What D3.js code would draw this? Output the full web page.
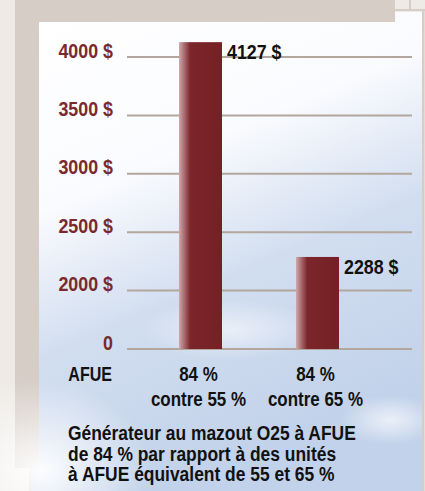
<!DOCTYPE html>
<html>
<head>
    <title></title>
    <meta charset="utf-8" />
    <style>
        body { margin: 0; }
        svg { display: block; }
        text { font-family: "Liberation Sans", Arial, sans-serif; font-weight: bold; }
    </style>
    <script src="https://d3js.org/d3.v7.min.js"></script>
</head>

<body>

<svg id="svg"></svg>

<script>

// data
let categories = ["84 %|contre 55 %", "84 %|contre 65 %"];
let values = [4127, 2288];
let yTicks = [1500, 2000, 2500, 3000, 3500, 4000];
let yTickLabels = ["0", "2000 $", "2500 $", "3000 $", "3500 $", "4000 $"];
let xAxisTitle = "AFUE";
let caption = [
    "Générateur au mazout O25 à AFUE",
    "de 84 % par rapport à des unités",
    "à AFUE équivalent de 55 et 65 %"
];

let realW = 425;
let realH = 491;
let squeeze = 0.85; // narrow the font to look condensed

let svg = d3.select("#svg")
    .attr("width", realW)
    .attr("height", realH);

let defs = svg.append("defs");

let sky = defs.append("linearGradient")
    .attr("id", "sky")
    .attr("x1", 0).attr("y1", 0).attr("x2", 0.35).attr("y2", 1);
sky.append("stop").attr("offset", "0%").attr("stop-color", "#ffffff");
sky.append("stop").attr("offset", "38%").attr("stop-color", "#fafbfe");
sky.append("stop").attr("offset", "65%").attr("stop-color", "#d2def0");
sky.append("stop").attr("offset", "100%").attr("stop-color", "#c2d2ea");

let glow = defs.append("radialGradient")
    .attr("id", "glow")
    .attr("cx", 0.5).attr("cy", 0.5).attr("r", 0.5);
glow.append("stop").attr("offset", "0%").attr("stop-color", "#ffffff").attr("stop-opacity", 0.95);
glow.append("stop").attr("offset", "100%").attr("stop-color", "#ffffff").attr("stop-opacity", 0);

let barGrad = defs.append("linearGradient")
    .attr("id", "barGrad")
    .attr("x1", 0).attr("y1", 0).attr("x2", 1).attr("y2", 0);
barGrad.append("stop").attr("offset", "0%").attr("stop-color", "#cfa8ab");
barGrad.append("stop").attr("offset", "26%").attr("stop-color", "#7c262b");
barGrad.append("stop").attr("offset", "100%").attr("stop-color", "#742025");

// page background
svg.append("rect")
    .attr("width", realW).attr("height", realH)
    .attr("fill", "#eeebe7");

svg.append("rect")
    .attr("x", 15).attr("y", 0).attr("width", 380).attr("height", 22)
    .attr("fill", "#d6cdc7");
svg.append("rect")
    .attr("x", 15).attr("y", 0).attr("width", 24).attr("height", 468)
    .attr("fill", "#d6cdc7");
svg.append("rect")
    .attr("x", 395).attr("y", 9).attr("width", 30).attr("height", 2.5)
    .attr("fill", "#d6cdc7");
svg.append("rect")
    .attr("x", 409).attr("y", 0).attr("width", 2).attr("height", 10)
    .attr("fill", "#d6cdc7");
svg.append("rect")
    .attr("x", 29).attr("y", 468).attr("width", 3).attr("height", 23)
    .attr("fill", "#d6cdc7");

// white panel with sky
let panel = "M39,22 L395,22 L395,11.5 L422,11.5 L422,491 L32,491 L32,468 L39,468 Z";
svg.append("path").attr("d", panel).attr("fill", "url(#sky)");
svg.append("ellipse")
    .attr("cx", 40).attr("cy", 470).attr("rx", 110).attr("ry", 90)
    .attr("fill", "url(#glow)");
svg.append("ellipse")
    .attr("cx", 230).attr("cy", 330).attr("rx", 90).attr("ry", 30)
    .attr("fill", "url(#glow)").attr("opacity", 0.6);
svg.append("ellipse")
    .attr("cx", 390).attr("cy", 420).attr("rx", 50).attr("ry", 25)
    .attr("fill", "url(#glow)").attr("opacity", 0.7);
svg.append("rect")
    .attr("x", 422).attr("y", 11.5).attr("width", 2.5).attr("height", realH)
    .attr("fill", "#d6cdc7");

// scales
let y = d3.scaleLinear()
    .domain([1500, 4000])
    .range([349, 57]);

let x = d3.scalePoint()
    .domain(categories)
    .range([200.5, 317.5]);

let barW = 43;

// gridlines
svg.selectAll(".grid")
    .data(yTicks)
    .enter()
    .append("line")
    .attr("class", "grid")
    .attr("x1", 127).attr("x2", 412)
    .attr("y1", d => y(d)).attr("y2", d => y(d))
    .attr("stroke", "#b2a69d")
    .attr("stroke-width", 2);

// y axis labels
let yAxis = d3.axisLeft(y)
    .tickValues(yTicks)
    .tickFormat((d, i) => yTickLabels[i])
    .tickSize(0)
    .tickPadding(0);

let gy = svg.append("g")
    .attr("transform", "translate(113,0)")
    .call(yAxis);
gy.select(".domain").remove();
gy.selectAll("text")
    .attr("x", 0)
    .attr("dy", 0)
    .attr("transform", "scale(" + squeeze + ",1)")
    .attr("fill", "#7a2a2e")
    .style("font-family", "Liberation Sans")
    .style("font-weight", "bold")
    .style("font-size", "21px");

// bars
svg.selectAll(".bar")
    .data(values)
    .enter()
    .append("rect")
    .attr("class", "bar")
    .attr("x", (d, i) => x(categories[i]) - barW / 2)
    .attr("y", d => y(d))
    .attr("width", barW)
    .attr("height", d => y(1500) - y(d))
    .attr("fill", "url(#barGrad)");

// helper: text narrowed around its anchor point
function narrowText(sel, px, py) {
    return sel.attr("transform", (d, i) =>
        "translate(" + px(d, i) + "," + py(d, i) + ") scale(" + squeeze + ",1)");
}

// value labels
narrowText(svg.selectAll(".val")
    .data(values)
    .enter()
    .append("text")
    .attr("class", "val")
    .attr("fill", "#111")
    .style("font-size", "21px")
    .text(d => d + " $"),
    (d, i) => x(categories[i]) + barW / 2 + 5,
    d => y(d) + 17);

// x labels
svg.append("text")
    .attr("transform", "translate(112,381) scale(" + (squeeze * 0.9) + ",1)")
    .attr("text-anchor", "end")
    .attr("fill", "#111")
    .style("font-size", "21px")
    .text(xAxisTitle);

let xl = svg.selectAll(".xlab")
    .data(categories)
    .enter()
    .append("g")
    .attr("class", "xlab")
    .attr("transform", d => "translate(" + (x(d) - 2) + ",0)");

xl.each(function(d) {
    let parts = d.split("|");
    let g = d3.select(this);
    parts.forEach((p, j) => {
        g.append("text")
            .attr("transform", "translate(0," + (381 + j * 25) + ") scale(" + (squeeze * 0.95) + ",1)")
            .attr("text-anchor", "middle")
            .attr("fill", "#111")
            .style("font-size", "21px")
            .text(p);
    });
});

// caption
narrowText(svg.selectAll(".cap")
    .data(caption)
    .enter()
    .append("text")
    .attr("class", "cap")
    .attr("fill", "#111")
    .style("font-size", "20.5px")
    .text(d => d),
    () => 68,
    (d, i) => 440 + i * 20.7);

</script>

</body>
</html>
